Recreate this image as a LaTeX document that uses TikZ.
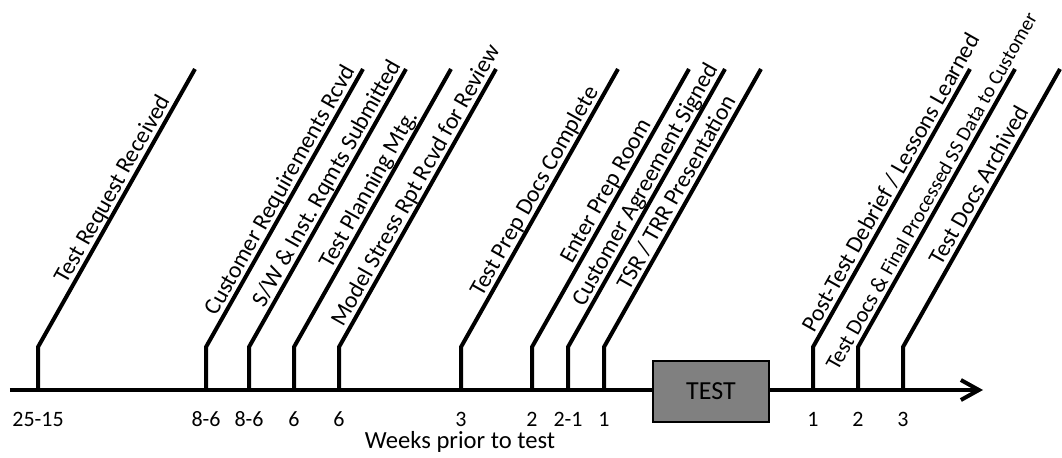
\documentclass[tikz,border=0pt]{standalone}
\usepackage{fontspec}
\setmainfont{Carlito}
\usetikzlibrary{arrows.meta}

\begin{document}
\begin{tikzpicture}[>={Straight Barb[length=0.36cm,width=0.4cm]},
  event/.style={line width=0.08cm},
  evlabel/.style={sloped,anchor=base east,inner sep=0pt,yshift=0.11cm,font=\fontsize{13.4}{16}\selectfont},
  weeks/.style={font=\fontsize{12.5}{15}\selectfont}]

\useasboundingbox (0,0) rectangle (21.24,9.14);

%%%%%%%%%%%%%%%%%%%%%%%%%%%%%%%%%%%%%%

\coordinate (tstart) at (0.2,1.34);
\coordinate (tend) at (19.66,1.34);
\draw[event,->] (tstart) -- (tend);

\node[draw=black,line width=0.03cm,fill=gray,minimum width=2.32cm,minimum height=1.22cm,font=\fontsize{14.8}{17}\selectfont] (test) at (14.22,1.31) {TEST};

%%%%%%%%%%%%%%%%%%%%%%%%%%%%%%%%%%%%%%

\draw[event] (0.76,1.34) -- ++(0,0.86) -- ++(3.14,5.56) node[evlabel,pos=0.884] (treq) {Test Request Received};
\draw[event] (4.12,1.34) -- ++(0,0.86) -- ++(3.14,5.56) node[evlabel,pos=0.991] (custreq) {Customer Requirements Rcvd};
\draw[event] (4.98,1.34) -- ++(0,0.86) -- ++(3.14,5.56) node[evlabel,pos=1.009] (swinst) {S/W \& Inst.\ Rqmts Submitted};
\draw[event] (5.88,1.34) -- ++(0,0.86) -- ++(3.14,5.56) node[evlabel,pos=0.827] (tplan) {Test Planning Mtg.};
\draw[event] (6.78,1.34) -- ++(0,0.86) -- ++(3.14,5.56) node[evlabel,pos=1.066] (mstress) {Model Stress Rpt Rcvd for Review};
\draw[event] (9.22,1.34) -- ++(0,0.86) -- ++(3.14,5.56) node[evlabel,pos=0.915] (tprep) {Test Prep Docs Complete};
\draw[event] (10.64,1.34) -- ++(0,0.86) -- ++(3.14,5.56) node[evlabel,pos=0.799] (proom) {Enter Prep Room};
\draw[event] (11.36,1.34) -- ++(0,0.86) -- ++(3.14,5.56) node[evlabel,pos=0.997] (custagr) {Customer Agreement Signed};
\draw[event] (12.08,1.34) -- ++(0,0.86) -- ++(3.14,5.56) node[evlabel,pos=0.881] (tsr) {TSR / TRR Presentation};

\draw[event] (16.26,1.34) -- ++(0,0.86) -- ++(3.14,5.56) node[evlabel,pos=1.104] (debrief) {Post-Test Debrief / Lessons Learned};
\draw[event] (17.16,1.34) -- ++(0,0.86) -- ++(3.14,5.56) node[evlabel,pos=1.182,font=\fontsize{12.6}{14}\selectfont] (tdocs) {Test Docs \& {\fontsize{11.5}{14}\selectfont Final Processed SS Data to Customer}};
\draw[event] (18.06,1.34) -- ++(0,0.86) -- ++(3.14,5.56) node[evlabel,pos=0.843] (archive) {Test Docs Archived};

%%%%%%%%%%%%%%%%%%%%%%%%%%%%%%%%%%%%%%

\node[weeks] (w1) at (0.76,0.76) {25-15};
\node[weeks] (w2) at (4.12,0.76) {8-6};
\node[weeks] (w3) at (4.98,0.76) {8-6};
\node[weeks] (w4) at (5.88,0.76) {6};
\node[weeks] (w5) at (6.78,0.76) {6};
\node[weeks] (w6) at (9.22,0.76) {3};
\node[weeks] (w7) at (10.64,0.76) {2};
\node[weeks] (w8) at (11.36,0.76) {2-1};
\node[weeks] (w9) at (12.08,0.76) {1};
\node[weeks] (w10) at (16.26,0.76) {1};
\node[weeks] (w11) at (17.16,0.76) {2};
\node[weeks] (w12) at (18.06,0.76) {3};

\node[font=\fontsize{14}{17}\selectfont] (wlabel) at (9.2,0.31) {Weeks prior to test};

\end{tikzpicture}
\end{document}
